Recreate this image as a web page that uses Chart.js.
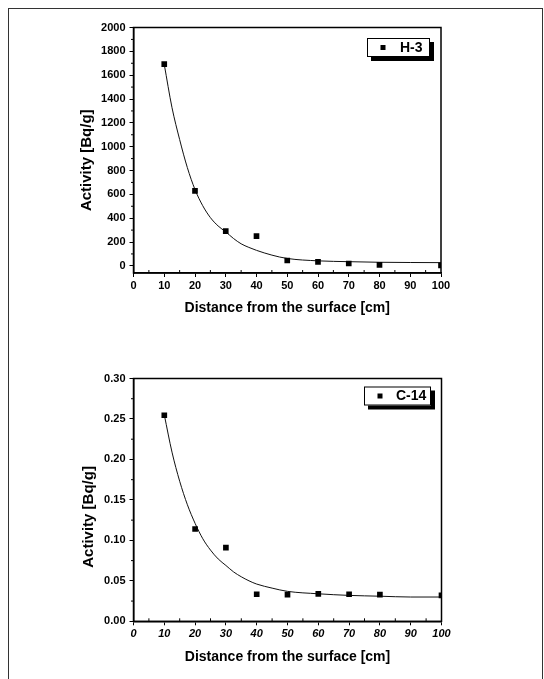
<!DOCTYPE html>
<html><head><meta charset="utf-8">
<script src="https://cdn.jsdelivr.net/npm/chart.js@4.4.1/dist/chart.umd.min.js"></script>
<style>
html,body{margin:0;padding:0;background:#fff;}
body{width:544px;height:679px;position:relative;overflow:hidden;}
#frame{position:absolute;left:8px;top:8px;width:535px;height:720px;border:1.5px solid #333;border-bottom:none;box-sizing:border-box;}
.c{position:absolute;left:0;}
</style></head><body>
<div id="frame"></div>
<div class="c" style="top:0;width:544px;height:340px"><canvas id="c1"></canvas></div>
<div class="c" style="top:340px;width:544px;height:339px"><canvas id="c2"></canvas></div>
<script>
// ---- data ----
const distances = [10, 20, 30, 40, 50, 60, 70, 80, 100];
const h3Activity = [1693, 629, 291, 249, 45, 34, 20, 8, 4];
const c14Activity = [0.2546, 0.114, 0.091, 0.0334, 0.033, 0.0338, 0.0334, 0.033, 0.032];
const fitDistances = [10, 12.5, 15, 17.5, 20, 22.5, 25, 27.5, 30, 32.5, 35, 37.5, 40, 45, 50, 60, 70, 80, 90, 100];
const h3Fit = [1690, 1330, 1060, 825, 640, 505, 405, 335, 285, 230, 185, 155, 130, 90, 62, 42, 35, 30, 28, 27];
const c14Fit = [0.255, 0.209, 0.173, 0.144, 0.121, 0.102, 0.088, 0.077, 0.069, 0.061, 0.055, 0.050, 0.046, 0.041, 0.037, 0.034, 0.032, 0.031, 0.030, 0.030];
const xTicks = [0, 10, 20, 30, 40, 50, 60, 70, 80, 90, 100];
const xMinorTicks = [5, 15, 25, 35, 45, 55, 65, 75, 85, 95];
const h3YTicks = [0, 200, 400, 600, 800, 1000, 1200, 1400, 1600, 1800, 2000];
const h3YMinor = [100, 300, 500, 700, 900, 1100, 1300, 1500, 1700, 1900];
const c14YTicks = [0, 0.05, 0.10, 0.15, 0.20, 0.25, 0.30];
const c14YMinor = [0.025, 0.075, 0.125, 0.175, 0.225, 0.275];
const xTitle = 'Distance from the surface [cm]';
const yTitle = 'Activity [Bq/g]';

const FAM = '"Liberation Sans", Arial, Helvetica, sans-serif';

const decor = {
  id: 'decor',
  afterDraw(chart, args, o) {
    const {ctx, chartArea: a, scales} = chart;
    ctx.save();
    ctx.strokeStyle = '#000';
    ctx.lineWidth = 1.5;
    ctx.strokeRect(a.left, a.top, a.right - a.left, a.bottom - a.top);
    ctx.lineWidth = 1;
    ctx.beginPath();
    o.xMinor.forEach(v => { const x = scales.x.getPixelForValue(v); ctx.moveTo(x, a.bottom); ctx.lineTo(x, a.bottom - 3); });
    o.yMinor.forEach(v => { const y = scales.y.getPixelForValue(v); ctx.moveTo(a.left, y); ctx.lineTo(a.left - 2.5, y); });
    ctx.stroke();
    // axis titles
    ctx.fillStyle = '#000';
    ctx.font = 'bold 14px ' + FAM;
    ctx.textAlign = 'center';
    ctx.textBaseline = 'middle';
    ctx.fillText(xTitle, (a.left + a.right) / 2, a.bottom + o.xTitleOffset);
    ctx.save();
    ctx.font = 'bold 15px ' + FAM;
    ctx.translate(o.yTitleX, (a.top + a.bottom) / 2 + o.yTitleShift);
    ctx.rotate(-Math.PI / 2);
    ctx.fillText(yTitle, 0, 0);
    ctx.restore();
    // legend
    const L = o.legend;
    const bx = a.right - L.right - L.w, by = a.top + L.top;
    ctx.fillStyle = '#000';
    ctx.fillRect(bx + L.shadow, by + L.shadow, L.w, L.h);
    ctx.fillStyle = '#fff';
    ctx.fillRect(bx, by, L.w, L.h);
    ctx.lineWidth = 1;
    ctx.strokeStyle = '#000';
    ctx.strokeRect(bx + 0.5, by + 0.5, L.w - 1, L.h - 1);
    ctx.fillStyle = '#000';
    ctx.fillRect(bx + L.markX - 2.5, by + L.h / 2 - 2.5, 5, 5);
    ctx.font = 'bold 14px ' + FAM;
    ctx.textAlign = 'left';
    ctx.fillText(chart.data.datasets[0].label, bx + L.textX, by + L.h / 2 + 0.5);
    ctx.restore();
  }
};

function makeChart(id, opts) {
  const tickFont = {family: FAM, size: 11, weight: 'bold'};
  return new Chart(document.getElementById(id), {
    type: 'scatter',
    data: {
      datasets: [
        {
          label: opts.label,
          data: distances.map((d, i) => ({x: d, y: opts.values[i]})),
          pointStyle: 'rect', pointRadius: 4, pointHoverRadius: 4,
          backgroundColor: '#000', borderColor: '#000', borderWidth: 0,
          showLine: false, order: 1
        },
        {
          label: 'fit',
          data: fitDistances.map((d, i) => ({x: d, y: opts.fit[i]})),
          showLine: true, pointRadius: 0, borderColor: '#111', borderWidth: 1,
          cubicInterpolationMode: 'monotone', fill: false, order: 2
        }
      ]
    },
    options: {
      responsive: true, maintainAspectRatio: false, animation: false,
      events: [],
      layout: {padding: opts.padding},
      plugins: {
        legend: {display: false}, tooltip: {enabled: false},
        decor: opts.decor
      },
      scales: {
        x: {
          type: 'linear', min: 0, max: 100,
          afterBuildTicks: s => { s.ticks = xTicks.map(v => ({value: v})); },
          afterFit: s => { s.height = opts.xHeight; },
          ticks: {color: '#000', font: Object.assign({}, tickFont, {style: opts.xItalic ? 'italic' : 'normal'}), padding: 2, maxRotation: 0, autoSkip: false},
          grid: {drawOnChartArea: false, drawTicks: true, tickLength: 4, tickColor: '#000', tickWidth: 1, color: '#000'},
          border: {display: true, color: '#000', width: 1.5}
        },
        y: {
          type: 'linear', min: opts.yMin, max: opts.yMax,
          afterBuildTicks: s => { s.ticks = opts.yTicks.map(v => ({value: v})); },
          afterFit: s => { s.width = opts.yWidth; },
          ticks: {color: '#000', font: tickFont, padding: 4, autoSkip: false, callback: opts.yFmt},
          grid: {drawOnChartArea: false, drawTicks: true, tickLength: 4, tickColor: '#000', tickWidth: 1, color: '#000'},
          border: {display: true, color: '#000', width: 1.5}
        }
      }
    },
    plugins: [decor]
  });
}

makeChart('c1', {
  label: 'H-3', values: h3Activity, fit: h3Fit,
  yMin: -60, yMax: 2000, yTicks: h3YTicks, yFmt: v => String(v),
  padding: {left: 0, top: 27.5, right: 103, bottom: 0},
  yWidth: 133.5, xHeight: 67, xItalic: false,
  decor: {xMinor: xMinorTicks, yMinor: h3YMinor, xTitleOffset: 35.5, yTitleX: 87, yTitleShift: 10,
          legend: {right: 11, top: 10.5, w: 63, h: 19, shadow: 4, markX: 16, textX: 33}}
});

makeChart('c2', {
  label: 'C-14', values: c14Activity, fit: c14Fit,
  yMin: 0, yMax: 0.30, yTicks: c14YTicks, yFmt: v => v.toFixed(2),
  padding: {left: 0, top: 38.5, right: 102.5, bottom: 0},
  yWidth: 133.5, xHeight: 57.7, xItalic: true,
  decor: {xMinor: xMinorTicks, yMinor: c14YMinor, xTitleOffset: 36, yTitleX: 89, yTitleShift: 17,
          legend: {right: 10.5, top: 8, w: 67, h: 19, shadow: 4, markX: 16, textX: 32}}
});
</script>
</body></html>
